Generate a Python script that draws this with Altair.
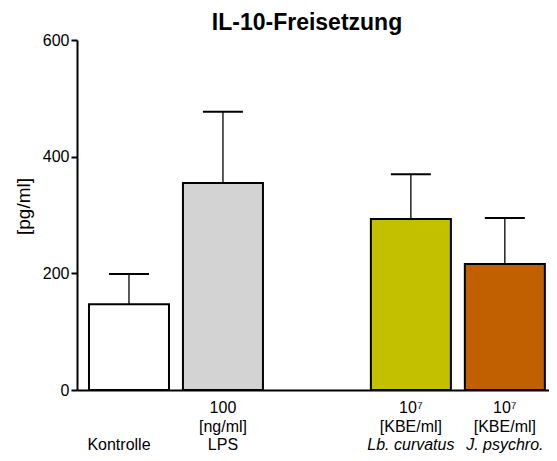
import altair as alt
import pandas as pd

# data
groups = ["Kontrolle", "LPS", "Lb. curvatus", "J. psychro."]
positions = [0, 1, 3, 4]
means = [147, 355, 293, 216]
err_tops = [199, 477, 370, 295]
dose = ["", "100", "10⁷", "10⁷"]
unit = ["", "[ng/ml]", "[KBE/ml]", "[KBE/ml]"]
italic = [False, False, True, True]
y_ticks = [0, 200, 400, 600]

colors = ["#ffffff", "#d3d3d3", "#c3c000", "#c06000"]

df = pd.DataFrame({
    "group": groups, "pos": positions, "mean": means, "top": err_tops,
    "dose": dose, "unit": unit, "italic": italic,
})

FONT = "Liberation Sans"
W, H = 472, 350

x = alt.X("pos:Q", scale=alt.Scale(domain=[-0.5, 4.4167], nice=False, zero=False),
          axis=alt.Axis(title=None, labels=False, ticks=False, grid=False,
                        domain=True, domainColor="black", domainWidth=2))
y = alt.Y("mean:Q", scale=alt.Scale(domain=[0, 600], nice=False),
          axis=alt.Axis(title="[pg/ml]", values=y_ticks, grid=False,
                        domainColor="black", domainWidth=2, tickColor="black",
                        tickWidth=2, tickSize=6, labelFont=FONT, labelFontSize=16,
                        labelColor="black", labelPadding=2, titleFont=FONT,
                        titleFontSize=19, titleFontWeight="normal", titleColor="black",
                        titleAngle=270, titleAlign="center", titleBaseline="middle",
                        titleX=-54, titleY=166))

base = alt.Chart(df)

err_line = base.mark_rule(color="black", strokeWidth=1.3).encode(
    x=x, y=alt.Y("mean:Q"), y2=alt.Y2("top:Q"))
err_cap = base.mark_rule(color="black", strokeWidth=2, xOffset=-20, x2Offset=20).encode(
    x=alt.X("pos:Q"), x2=alt.X2("pos:Q"), y=alt.Y("top:Q"))

bars = base.mark_bar(size=80, stroke="black", strokeWidth=2).encode(
    x=x, y=y,
    fill=alt.Fill("group:N", scale=alt.Scale(domain=groups, range=colors), legend=None))

txt = dict(font=FONT, fontSize=16, color="black", align="center", baseline="middle")
row1 = base.mark_text(**txt).encode(x=alt.X("pos:Q"), y=alt.value(368), text="dose:N")
row2 = base.mark_text(**txt).encode(x=alt.X("pos:Q"), y=alt.value(387), text="unit:N")
row3k = base.transform_filter("datum.pos == 0").mark_text(dx=-10, **txt).encode(
    x=alt.X("pos:Q"), y=alt.value(405), text="group:N")
row3a = base.transform_filter("!datum.italic && datum.pos != 0").mark_text(**txt).encode(
    x=alt.X("pos:Q"), y=alt.value(405), text="group:N")
row3b = base.transform_filter("datum.italic").mark_text(fontStyle="italic", **txt).encode(
    x=alt.X("pos:Q"), y=alt.value(405), text="group:N")

chart = alt.layer(err_line, err_cap, bars, row1, row2, row3k, row3a, row3b).properties(
    width=W, height=H,
    title=alt.TitleParams("IL-10-Freisetzung", font=FONT, fontSize=23, fontWeight="bold",
                          color="black", anchor="middle", offset=5, dx=-6, dy=8),
    autosize=alt.AutoSizeParams(type="none"),
    padding={"left": 69, "top": 32, "right": 0, "bottom": 63},
).configure_view(stroke=None)

chart.save("out.html", embed_options={"renderer": "svg", "actions": False})
